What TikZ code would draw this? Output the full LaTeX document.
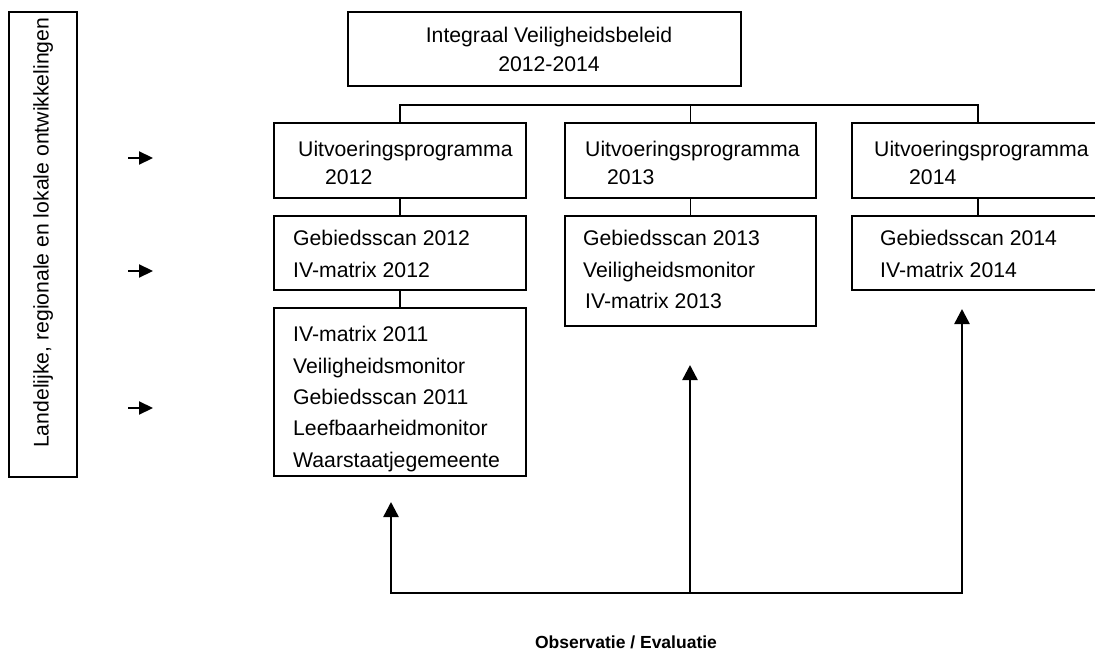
\documentclass[tikz,border=0pt]{standalone}
\usepackage{fontspec}
\setmainfont{Liberation Sans}
\usetikzlibrary{arrows.meta}
\begin{document}
\begin{tikzpicture}[x=1pt,y=-1pt,
  box/.style={draw, line width=1.5pt, rectangle, inner sep=0pt},
  txt/.style={inner sep=0pt, anchor=base west, font=\fontsize{21.2}{25}\selectfont},
  ctxt/.style={txt, anchor=base},
  conn/.style={line width=1.5pt},
  fbline/.style={line width=2.5pt, line join=miter},
  fb/.style={fbline, -{Triangle[length=15pt,width=15pt]}},
  fbb/.style={fbline, {Triangle[length=15pt,width=15pt]}-{Triangle[length=15pt,width=15pt]}},
  sm/.style={line width=2.2pt, -{Triangle[length=14pt,width=13pt]}}]
\useasboundingbox (0,0) rectangle (1095,650);

% left box
\node[box, minimum width=68pt, minimum height=465pt] (L) at (43,244.5) {};
\node[txt, rotate=90] (Lt) at (48.5,448) {Landelijke, regionale en lokale ontwikkelingen};

% small arrows
\coordinate (s1a) at (128,158); \coordinate (s1b) at (153,158);
\coordinate (s2a) at (128,271); \coordinate (s2b) at (153,271);
\coordinate (s3a) at (128,408); \coordinate (s3b) at (153,408);
\draw[sm] (s1a) -- (s1b);
\draw[sm] (s2a) -- (s2b);
\draw[sm] (s3a) -- (s3b);

% top box
\node[box, minimum width=393pt, minimum height=74pt] (T) at (544.5,49) {};
\node[ctxt] (Tt1) at (549,43) {Integraal Veiligheidsbeleid};
\node[ctxt] (Tt2) at (549,72) {2012-2014};

% column 1
\node[box, minimum width=252pt, minimum height=75pt] (u12) at (400,160.5) {};
\node[box, minimum width=252pt, minimum height=74pt] (g12) at (400,253) {};
\node[box, minimum width=252pt, minimum height=168pt] (d11) at (400,392) {};
\node[txt] (u12a) at (298,157) {Uitvoeringsprogramma};
\node[txt] (u12b) at (325,184) {2012};
\node[txt] (g12a) at (293,245) {Gebiedsscan 2012};
\node[txt] (g12b) at (293,277) {IV-matrix 2012};
\node[txt] (d11a) at (293,341) {IV-matrix 2011};
\node[txt] (d11b) at (293,373) {Veiligheidsmonitor};
\node[txt] (d11c) at (293,404) {Gebiedsscan 2011};
\node[txt] (d11d) at (293,435) {Leefbaarheidmonitor};
\node[txt] (d11e) at (293,467) {Waarstaatjegemeente};

% column 2
\node[box, minimum width=251pt, minimum height=75pt] (u13) at (690.5,160.5) {};
\node[box, minimum width=251pt, minimum height=110pt] (g13) at (690.5,271) {};
\node[txt] (u13a) at (585,157) {Uitvoeringsprogramma};
\node[txt] (u13b) at (607,184) {2013};
\node[txt] (g13a) at (583,245) {Gebiedsscan 2013};
\node[txt] (g13b) at (583,277) {Veiligheidsmonitor};
\node[txt] (g13c) at (585,308) {IV-matrix 2013};

% column 3
\node[box, minimum width=252pt, minimum height=75pt] (u14) at (978,160.5) {};
\node[box, minimum width=252pt, minimum height=74pt] (g14) at (978,253) {};
\node[txt] (u14a) at (874,157) {Uitvoeringsprogramma};
\node[txt] (u14b) at (909,184) {2014};
\node[txt] (g14a) at (880,245) {Gebiedsscan 2014};
\node[txt] (g14b) at (880,277) {IV-matrix 2014};

% bus
\coordinate (bus) at (545,105);
\draw[conn] (u12.north) |- (u14.north |- bus) -- (u14.north);
\draw[conn] (u13.north) -- (u13.north |- bus);
\draw[conn] (u12.south) -- (g12.north);
\draw[conn] (g12.south) -- (d11.north);
\draw[conn] (u13.south) -- (g13.north);
\draw[conn] (u14.south) -- (g14.north);

% feedback arrows
\coordinate (f1) at (391,502); \coordinate (b1) at (391,593);
\coordinate (f2) at (690,365); \coordinate (b2) at (690,593);
\coordinate (f3) at (962,309); \coordinate (b3) at (962,593);
\draw[fbb] (f1) -- (b1) -- (b3) -- (f3);
\draw[fb] (b2) -- (f2);

\node[inner sep=0pt, anchor=base, font=\fontsize{17.5}{20}\selectfont\bfseries] (obs) at (626,648) {Observatie / Evaluatie};
\end{tikzpicture}
\end{document}
